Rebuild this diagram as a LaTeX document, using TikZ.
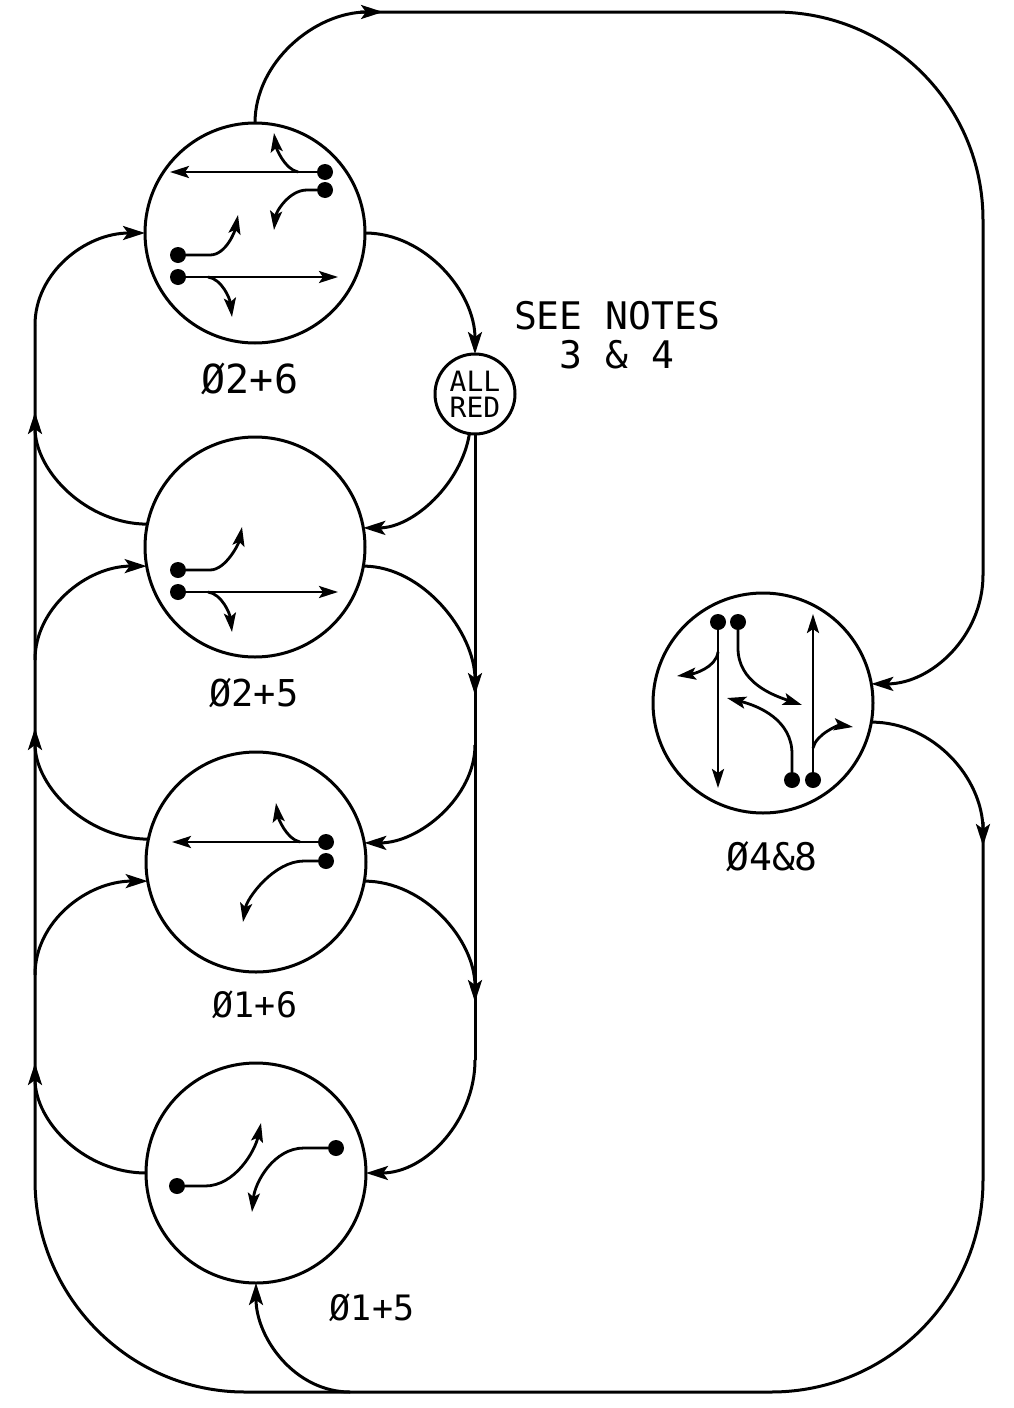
\documentclass[tikz,border=0pt]{standalone}
\usepackage{fontspec}
\setmainfont{DejaVu Sans Mono}
\usetikzlibrary{arrows.meta}
\tikzset{
  phase/.style={circle,draw,line width=3pt,minimum size=220pt,inner sep=0pt,outer sep=0pt},
  allred/.style={circle,draw,line width=3pt,minimum size=80pt,inner sep=0pt,outer sep=0pt,align=center,
     font=\fontsize{28}{26}\selectfont},
  dot/.style={circle,fill=black,minimum size=16pt,inner sep=0pt,outer sep=0pt},
  lab/.style={font=\fontsize{#1}{40}\selectfont,inner sep=0pt},
  lab/.default=38,
  flow/.style={line width=3pt},
  flowtip/.style={line width=3pt,-{Stealth[length=22pt,width=14pt,inset=5pt]}},
  mv/.style={line width=2.8pt},
  mvtip/.style={line width=2.8pt,-{Stealth[length=19pt,width=12pt,inset=4pt]}}
}
\begin{document}
\begin{tikzpicture}[x=1pt,y=-1pt]
\useasboundingbox[fill=white] (0,0) rectangle (1013,1408);
% phase circles
\node[phase] (A) at (255,233) {};
\node[phase] (B) at (255,547) {};
\node[phase] (C) at (256,862) {};
\node[phase] (D) at (256,1173) {};
\node[phase] (E) at (763,703) {};
\node[allred] (R) at (475,394) {ALL\\RED};
% labels
\node[lab=40] (la) at (250,379) {Ø2+6};
\node[lab=37] (lb) at (254,693) {Ø2+5};
\node[lab=35] (lc) at (255,1005) {Ø1+6};
\node[lab=35] (ld) at (372,1308) {Ø1+5};
\node[lab=38] (le) at (772,857) {Ø4\&8};
\node[lab,align=center,font=\fontsize{38}{39}\selectfont] (ln) at (617,335) {SEE NOTES\\3 \& 4};
% junction coordinates
\coordinate (t0) at (360,12);
\coordinate (t1) at (383,12);
\coordinate (t2) at (775,12);
\coordinate (t3) at (983,220);
\coordinate (t4) at (983,575);
\coordinate (b0) at (983,822);
\coordinate (b1) at (983,846);
\coordinate (b2) at (983,1180);
\coordinate (b3) at (771,1392);
\coordinate (b4) at (350,1392);
\coordinate (b5) at (245,1392);
\coordinate (l1) at (35,1180);
\coordinate (l2) at (35,325);
\coordinate (l3) at (35,1063);
\coordinate (l4) at (35,975);
\coordinate (l5) at (35,728);
\coordinate (l6) at (35,660);
\coordinate (l7) at (35,412);
\coordinate (r1) at (475,1060);
\coordinate (r2) at (475,695);
\coordinate (r3) at (475,745);
\coordinate (r4) at (475,1002);
% outer loop
\draw[flowtip] (A.north) .. controls +(0,-61) and +(-68,0) .. (t1);
\draw[flow] (t0) -- (t2) .. controls +(115,0) and +(0,-115) .. (t3) -- (t4);
\draw[flowtip] (t4) .. controls +(0,61) and +(60,0) .. (E.10);
\draw[flowtip] (E.350) .. controls +(62,0) and +(0,-68) .. (b1);
\draw[flow] (b0) -- (b2) .. controls +(0,117) and +(117,0) .. (b3) -- (b4);
\draw[flowtip] (b4) .. controls +(-55,0) and +(0,55) .. (D.south);
\draw[flow] (b4) -- (b5) .. controls +(-116,0) and +(0,116) .. (l1) -- (l2);
\draw[flowtip] (l2) .. controls +(0,-52) and +(-60,0) .. (A.west);
% left side
\draw[flowtip] (D.west) .. controls +(-60,0) and +(0,60) .. (l3);
\draw[flowtip] (l4) .. controls +(0,-54) and +(-60,0) .. (C.190);
\draw[flowtip] (C.168) .. controls +(-60,0) and +(0,60) .. (l5);
\draw[flowtip] (l6) .. controls +(0,-52) and +(-60,0) .. (B.190);
\draw[flowtip] (B.168) .. controls +(-60,0) and +(0,60) .. (l7);
% right side
\draw[flowtip] (A.east) .. controls +(60,0) and +(0,-62) .. (R.north);
\draw[flow] (R.south) -- (r1);
\draw[flowtip] (r1) .. controls +(0,60) and +(60,0) .. (D.east);
\draw[flowtip] (R.262) .. controls +(-8,50) and +(50,0) .. (B.10);
\draw[flowtip] (B.350) .. controls +(60,0) and +(0,-62) .. (r2);
\draw[flowtip] (r3) .. controls +(0,52) and +(55,0) .. (C.10);
\draw[flowtip] (C.350) .. controls +(60,0) and +(0,-62) .. (r4);
% Phase 2+6
\node[dot] (a1) at (325,172) {};
\node[dot] (a2) at (325,190) {};
\node[dot] (a3) at (178,255) {};
\node[dot] (a4) at (178,277) {};
\coordinate (a1t) at (170,172);
\coordinate (a1b) at (298,172);
\coordinate (a1c) at (274,133);
\coordinate (a2t) at (274,230);
\coordinate (a3t) at (238,215);
\coordinate (a4t) at (338,277);
\coordinate (a4b) at (208,277);
\coordinate (a4c) at (232,317);
\draw[mvtip] (a1) -- (a1t);
\draw[mvtip] (a1b) .. controls +(-14,-3) and +(2,14) .. (a1c);
\draw[mvtip] (a2) -- ++(-18,0) .. controls +(-18,0) and +(2,-18) .. (a2t);
\draw[mvtip] (a3) -- ++(32,0) .. controls +(16,0) and +(-3,16) .. (a3t);
\draw[mvtip] (a4) -- (a4t);
\draw[mvtip] (a4b) .. controls +(14,2) and +(-2,-18) .. (a4c);
% Phase 2+5
\node[dot] (b6) at (178,570) {};
\node[dot] (b7) at (178,592) {};
\coordinate (b6t) at (242,527);
\coordinate (b7t) at (338,592);
\coordinate (b7b) at (208,592);
\coordinate (b7c) at (232,632);
\draw[mvtip] (b6) -- ++(32,0) .. controls +(16,0) and +(-3,16) .. (b6t);
\draw[mvtip] (b7) -- (b7t);
\draw[mvtip] (b7b) .. controls +(14,2) and +(-2,-18) .. (b7c);
% Phase 1+6
\node[dot] (c1) at (326,842) {};
\node[dot] (c2) at (326,861) {};
\coordinate (c1t) at (172,842);
\coordinate (c1b) at (300,842);
\coordinate (c1c) at (276,803);
\coordinate (c2t) at (243,922);
\draw[mvtip] (c1) -- (c1t);
\draw[mvtip] (c1b) .. controls +(-14,-3) and +(2,14) .. (c1c);
\draw[mvtip] (c2) -- ++(-22,0) .. controls +(-30,0) and +(4,-24) .. (c2t);
% Phase 1+5
\node[dot] (d1) at (177,1186) {};
\node[dot] (d2) at (336,1148) {};
\coordinate (d1t) at (261,1123);
\coordinate (d2t) at (252,1212);
\draw[mvtip] (d1) -- ++(28,0) .. controls +(30,0) and +(-6,28) .. (d1t);
\draw[mvtip] (d2) -- ++(-32,0) .. controls +(-30,0) and +(3,-30) .. (d2t);
% Phase 4&8
\node[dot] (e1) at (718,622) {};
\node[dot] (e2) at (738,622) {};
\node[dot] (e3) at (792,780) {};
\node[dot] (e4) at (813,780) {};
\coordinate (e1t) at (718,788);
\coordinate (e1b) at (718,652);
\coordinate (e1c) at (677,676);
\coordinate (e2t) at (802,705);
\coordinate (e3t) at (727,698);
\coordinate (e4t) at (813,614);
\coordinate (e4b) at (813,748);
\coordinate (e4c) at (853,727);
\draw[mvtip] (e1) -- (e1t);
\draw[mvtip] (e1b) .. controls +(-2,16) and +(16,-2) .. (e1c);
\draw[mvtip] (e2) -- ++(0,26) .. controls +(0,34) and +(-30,-10) .. (e2t);
\draw[mvtip] (e3) -- ++(0,-26) .. controls +(0,-34) and +(32,8) .. (e3t);
\draw[mvtip] (e4) -- (e4t);
\draw[mvtip] (e4b) .. controls +(3,-14) and +(-14,-2) .. (e4c);
\end{tikzpicture}
\end{document}
